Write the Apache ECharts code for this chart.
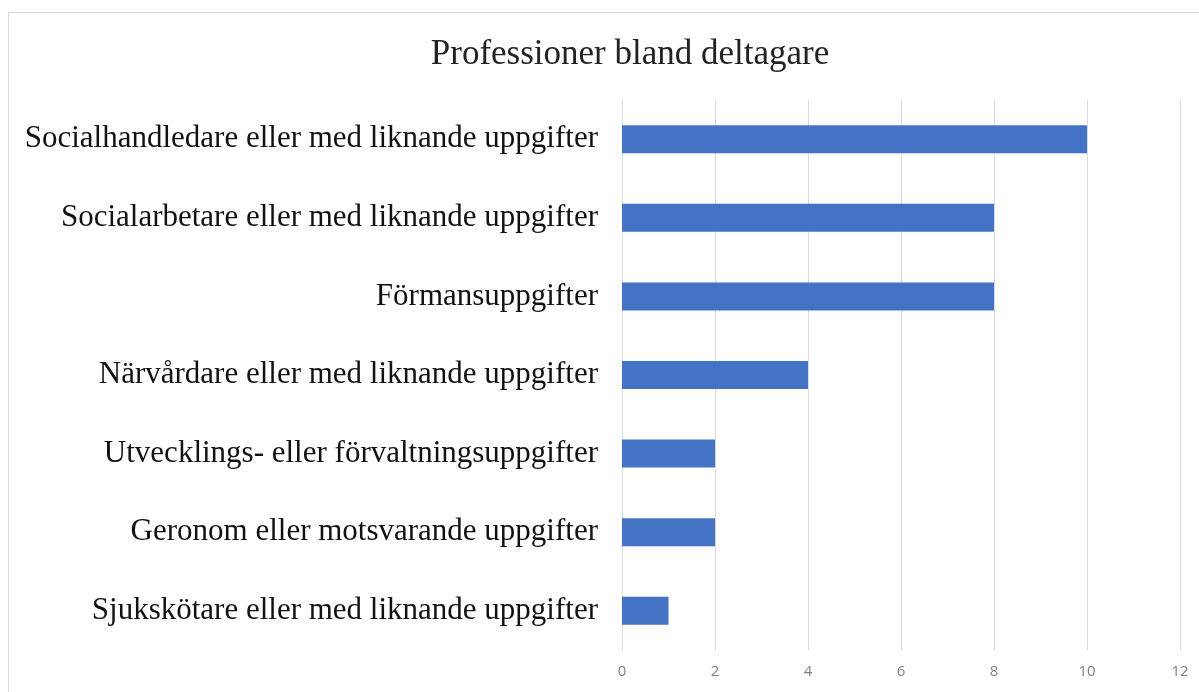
<!DOCTYPE html>
<html>
<head>
<meta charset="utf-8">
<script src="https://cdn.jsdelivr.net/npm/echarts@6/dist/echarts.min.js"></script>
<style>
  html, body { margin: 0; padding: 0; background: #fff; }
  #frame { position: absolute; left: 8px; top: 12px; width: 1300px; height: 800px; border: 1px solid #d9d9d9; }
  #chart { position: absolute; left: 0; top: 0; width: 1199px; height: 692px; }
</style>
</head>
<body>
<div id="frame"></div>
<div id="chart"></div>
<script>
var categories = [
    'Socialhandledare eller med liknande uppgifter',
    'Socialarbetare eller med liknande uppgifter',
    'Förmansuppgifter',
    'Närvårdare eller med liknande uppgifter',
    'Utvecklings- eller förvaltningsuppgifter',
    'Geronom eller motsvarande uppgifter',
    'Sjukskötare eller med liknande uppgifter'
];
var counts = [10, 8, 8, 4, 2, 2, 1];
var xTicks = [0, 2, 4, 6, 8, 10, 12];

var dom = document.getElementById("chart");
var myChart = echarts.init(dom);

var option = {
    animation: false,
    title: {
        text: 'Professioner bland deltagare',
        left: 625,
        textAlign: 'center',
        top: 32,
        textStyle: {
            fontFamily: 'Liberation Serif',
            fontWeight: 'normal',
            fontSize: 35,
            color: '#222'
        }
    },
    grid: {
        left: 622,
        right: 19,
        top: 100,
        bottom: 42
    },
    xAxis: {
        type: 'value',
        min: xTicks[0],
        max: xTicks[xTicks.length - 1],
        interval: 2,
        axisLine: { show: false },
        axisTick: { show: false },
        axisLabel: {
            color: '#808080',
            fontFamily: 'Open Sans',
            fontSize: 15,
            margin: 14
        },
        splitLine: {
            lineStyle: { color: '#d9d9d9', width: 1 }
        }
    },
    yAxis: {
        type: 'category',
        inverse: true,
        data: categories,
        axisLine: { show: false },
        axisTick: { show: false },
        axisLabel: {
            color: '#111',
            fontFamily: 'Liberation Serif',
            fontSize: 31,
            margin: 24
        }
    },
    series: [{
        type: 'bar',
        data: counts,
        barWidth: 28,
        itemStyle: { color: '#4472C4' }
    }]
};

myChart.setOption(option);
</script>
</body>
</html>
